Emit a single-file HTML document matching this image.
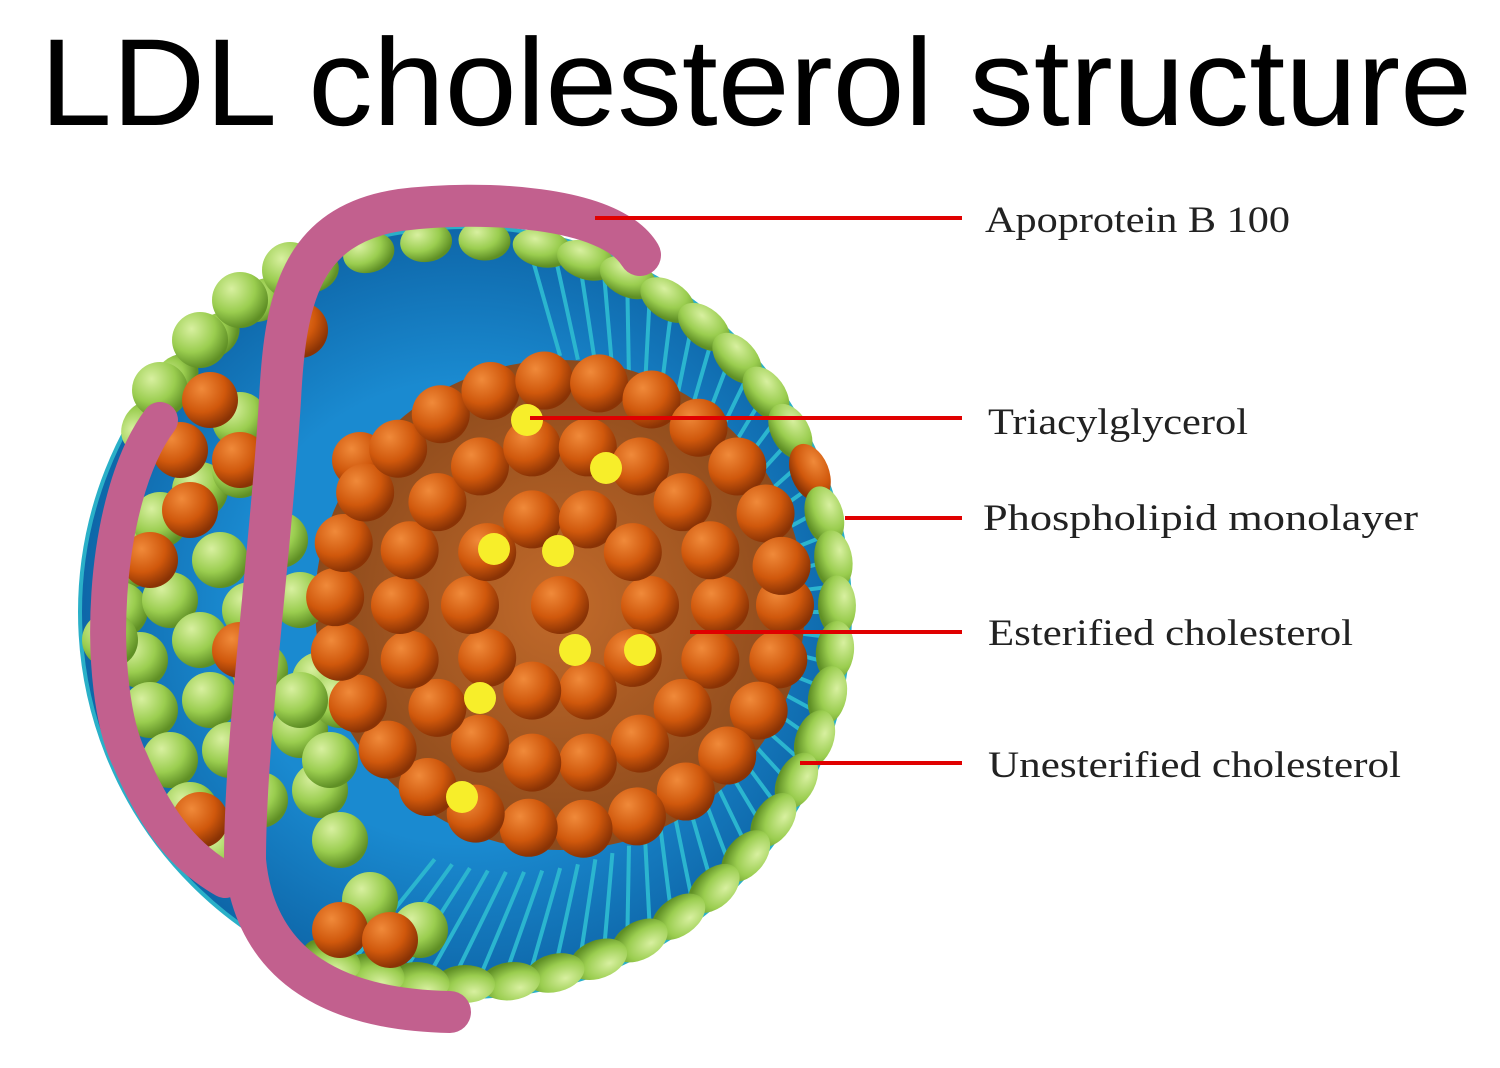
<!DOCTYPE html>
<html><head><meta charset="utf-8"><style>
html,body{margin:0;padding:0;background:#fff;width:1500px;height:1068px;overflow:hidden}
svg{display:block}
</style></head><body>
<svg id="s" width="1500" height="1068" viewBox="0 0 1500 1068" xmlns="http://www.w3.org/2000/svg">
<defs>
<radialGradient id="og" cx="0.35" cy="0.3" r="0.7"><stop offset="0" stop-color="#f08a3a"/><stop offset="0.6" stop-color="#d0580c"/><stop offset="1" stop-color="#8a3305"/></radialGradient>
<radialGradient id="gg" cx="0.35" cy="0.3" r="0.7"><stop offset="0" stop-color="#d8f0a0"/><stop offset="0.6" stop-color="#9acd4f"/><stop offset="1" stop-color="#5f8f25"/></radialGradient>
<radialGradient id="bg" cx="0.5" cy="0.5" r="0.5"><stop offset="0.6" stop-color="#1a8ad0"/><stop offset="1" stop-color="#0e66a8"/></radialGradient>
<radialGradient id="cg" cx="0.5" cy="0.5" r="0.5"><stop offset="0" stop-color="#c26a2a"/><stop offset="1" stop-color="#8c4a1c"/></radialGradient>
</defs>
<text x="40" y="125" font-family="Liberation Sans, Arial, sans-serif" font-size="124" textLength="1432" lengthAdjust="spacingAndGlyphs" fill="#000">LDL cholesterol structure</text>
<circle cx="465" cy="612" r="385" fill="url(#bg)" stroke="#2ab0c8" stroke-width="4"/>
<g id="lines" stroke="#2bb5cf" stroke-width="4" fill="none"></g>
<circle cx="560" cy="605" r="245" fill="url(#cg)"/>
<g id="balls"></g>
<path d="M160,420 C100,500 95,690 130,760 C160,830 190,860 225,880" stroke="#c2608e" stroke-width="36" fill="none" stroke-linecap="round"/>
<path d="M640,255 C610,205 480,200 400,210 C300,225 285,300 280,400 C270,560 245,740 245,860 C255,970 340,1010 450,1012" stroke="#c2608e" stroke-width="42" fill="none" stroke-linecap="round"/>
<g stroke="#e00000" stroke-width="4">
<line x1="595" y1="218" x2="962" y2="218"/>
<line x1="530" y1="418" x2="962" y2="418"/>
<line x1="845" y1="518" x2="962" y2="518"/>
<line x1="690" y1="632" x2="962" y2="632"/>
<line x1="800" y1="763" x2="962" y2="763"/>
</g>
<g font-family="Liberation Serif, serif" font-size="37" fill="#222" lengthAdjust="spacingAndGlyphs">
<text x="985" y="232" textLength="305" lengthAdjust="spacingAndGlyphs">Apoprotein B 100</text>
<text x="988" y="434" textLength="260" lengthAdjust="spacingAndGlyphs">Triacylglycerol</text>
<text x="983" y="530" textLength="435" lengthAdjust="spacingAndGlyphs">Phospholipid monolayer</text>
<text x="988" y="645" textLength="365" lengthAdjust="spacingAndGlyphs">Esterified cholesterol</text>
<text x="988" y="777" textLength="413" lengthAdjust="spacingAndGlyphs">Unesterified cholesterol</text>
</g>
</svg>
<script>
var NS="http://www.w3.org/2000/svg",b=document.getElementById('balls'),L=document.getElementById('lines');
function el(p,t,a){var e=document.createElementNS(NS,t);for(var k in a)e.setAttribute(k,a[k]);p.appendChild(e);return e;}
var cx=465,cy=612;
for(var a=-80;a<110;a+=4){var r=a*Math.PI/180;el(L,'line',{x1:cx+370*Math.cos(r),y1:cy+370*Math.sin(r),x2:cx+260*Math.cos(r)+50,y2:cy+260*Math.sin(r)});}
for(var a=-78;a<=112;a+=7){var r=a*Math.PI/180;var x=cx+372*Math.cos(r),y=cy+372*Math.sin(r);
 var f=(a==50||a==-22)?'url(#og)':'url(#gg)';
 el(b,'ellipse',{cx:x,cy:y,rx:30,ry:19,fill:f,transform:'rotate('+(a+90)+' '+x+' '+y+')'});}
for(var a=-150;a<-80;a+=9){var r=a*Math.PI/180;var x=cx+372*Math.cos(r),y=cy+372*Math.sin(r);
 el(b,'ellipse',{cx:x,cy:y,rx:26,ry:20,fill:'url(#gg)',transform:'rotate('+(a+90)+' '+x+' '+y+')'});}
var G=[[130,560],[160,520],[200,490],[240,470],[120,610],[170,600],[220,560],[280,540],[140,660],[200,640],[250,610],[300,600],[150,710],[210,700],[260,670],[320,680],[170,760],[230,750],[300,730],[340,700],[190,810],[260,800],[320,790],[220,850],[340,840],[370,900],[420,930],[240,300],[290,270],[200,340],[160,390],[300,700],[330,760],[240,420],[110,640]];
G.forEach(function(p){el(b,'circle',{cx:p[0],cy:p[1],r:28,fill:'url(#gg)'});});
var O0=[[210,400],[180,450],[190,510],[150,560],[240,460],[200,820],[340,930],[390,940],[360,460],[240,650],[300,330]];
O0.forEach(function(p){el(b,'circle',{cx:p[0],cy:p[1],r:28,fill:'url(#og)'});});
var O=[];
for(var a=0;a<360;a+=14){var r=a*Math.PI/180;O.push([560+225*Math.cos(r),605+225*Math.sin(r)]);}
for(var a=0;a<360;a+=20){var r=a*Math.PI/180;O.push([560+160*Math.cos(r),605+160*Math.sin(r)]);}
for(var a=0;a<360;a+=36){var r=a*Math.PI/180;O.push([560+90*Math.cos(r),605+90*Math.sin(r)]);}
O.push([560,605]);
O.forEach(function(p){el(b,'circle',{cx:p[0],cy:p[1],r:29,fill:'url(#og)'});});
[[527,420],[606,468],[494,549],[558,551],[575,650],[640,650],[480,698],[462,797]].forEach(function(p){el(b,'circle',{cx:p[0],cy:p[1],r:16,fill:'#f7ee2a'});});
</script>
</body></html>
